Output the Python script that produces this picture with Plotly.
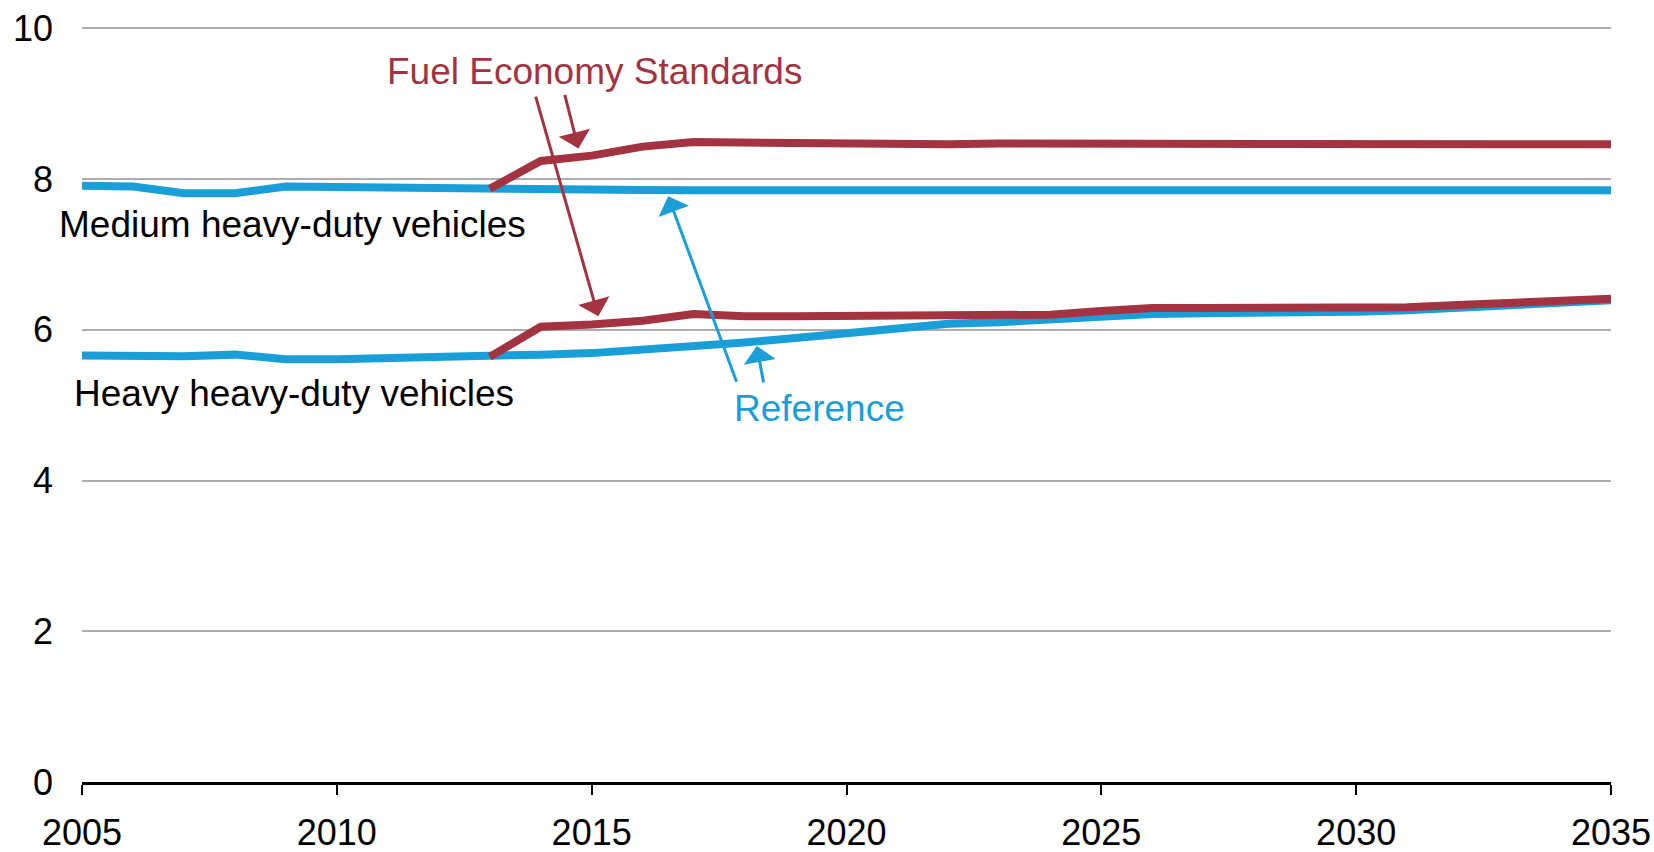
import plotly.graph_objects as go

# Years on the horizontal axis
years = list(range(2005, 2036))
fes_years = list(range(2013, 2036))

# Reference case (miles per gallon)
medium_reference = [7.91, 7.90, 7.81, 7.81, 7.90, 7.89, 7.89, 7.88, 7.87, 7.865,
                    7.86, 7.855, 7.85, 7.85, 7.85, 7.85, 7.85, 7.85, 7.85, 7.85,
                    7.85, 7.85, 7.85, 7.85, 7.85, 7.85, 7.85, 7.85, 7.85, 7.85, 7.85]
heavy_reference = [5.66, 5.65, 5.65, 5.67, 5.61, 5.61, 5.62, 5.63, 5.64, 5.67,
                   5.69, 5.73, 5.78, 5.83, 5.89, 5.95, 6.03, 6.08, 6.10, 6.14,
                   6.18, 6.21, 6.22, 6.22, 6.23, 6.24, 6.26, 6.29, 6.32, 6.36, 6.39]

# Fuel economy standards case (starts in 2013)
medium_standards = [7.87, 8.24, 8.31, 8.43, 8.49, 8.48, 8.47, 8.47, 8.47, 8.46,
                    8.47, 8.47, 8.47, 8.46, 8.46, 8.46, 8.46, 8.46, 8.46, 8.46,
                    8.46, 8.46, 8.46]
heavy_standards = [5.64, 6.04, 6.07, 6.12, 6.21, 6.18, 6.18, 6.18, 6.18, 6.19,
                   6.19, 6.20, 6.25, 6.29, 6.29, 6.29, 6.29, 6.29, 6.30, 6.33,
                   6.36, 6.39, 6.41]

x_ticks = [2005, 2010, 2015, 2020, 2025, 2030, 2035]
y_ticks = [0, 2, 4, 6, 8, 10]

BLUE = "#199ED8"
RED = "#A33340"
FONT = "Arial, Liberation Sans, sans-serif"
LW = 8

fig = go.Figure()
for series in (medium_reference, heavy_reference):
    fig.add_trace(go.Scatter(x=years, y=series, mode="lines",
                             line=dict(color=BLUE, width=LW),
                             hoverinfo="skip", showlegend=False))
for series in (medium_standards, heavy_standards):
    fig.add_trace(go.Scatter(x=fes_years, y=series, mode="lines",
                             line=dict(color=RED, width=LW),
                             hoverinfo="skip", showlegend=False))

TXT = 37

# Series labels
labels = [
    ("Medium heavy-duty vehicles", 2009.13, 7.4, "black"),
    ("Heavy heavy-duty vehicles", 2009.16, 5.15, "black"),
    ("Fuel Economy Standards", 2015.06, 9.43, RED),
    ("Reference", 2019.47, 4.96, BLUE),
]
for text, x, y, color in labels:
    fig.add_annotation(x=x, y=y, text=text, showarrow=False,
                       xanchor="center", yanchor="middle",
                       font=dict(family=FONT, size=TXT, color=color))

# Arrows from labels to lines (tip in data units, tail as pixel offset)
arrows = [
    (2015.13, 6.18, -63, -221, RED),
    (2014.74, 8.405, -14, -55, RED),
    (2016.50, 7.772, 69, 187, BLUE),
    (2018.24, 5.786, 7, 38, BLUE),
]
for x, y, ax, ay, color in arrows:
    fig.add_annotation(x=x, y=y, ax=ax, ay=ay, text="", showarrow=True,
                       arrowhead=1, arrowsize=1.8, arrowwidth=3,
                       arrowcolor=color, standoff=0)

fig.update_layout(
    width=1654, height=852,
    margin=dict(l=82, r=43, t=26, b=70, autoexpand=False),
    plot_bgcolor="white", paper_bgcolor="white",
    font=dict(family=FONT, size=36, color="black"),
    showlegend=False,
)
fig.update_xaxes(
    range=[2005, 2035], tickvals=x_ticks, showgrid=False, zeroline=False,
    showline=True, linecolor="black", linewidth=2.5,
    ticks="outside", ticklen=10, tickwidth=1.5, tickcolor="black",
    ticklabelstandoff=7, automargin=False,
)
fig.update_yaxes(
    range=[0, 10.03], tickvals=y_ticks, showgrid=True, gridcolor="#ADADAD",
    gridwidth=1.5, zeroline=False, showline=False, ticks="",
    ticklabelstandoff=28, automargin=False,
)

fig.write_html("out.html")
